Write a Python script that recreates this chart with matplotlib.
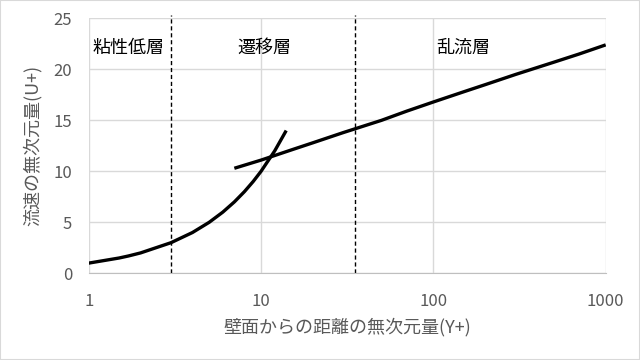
import matplotlib
matplotlib.use("Agg")
import matplotlib.pyplot as plt

plt.rcParams['font.family'] = ['Noto Sans CJK JP', 'DejaVu Sans']

# viscous sublayer (u+ = y+)
vis_x = [1, 1.5, 1.7, 2, 3, 4, 5, 6, 7, 8, 9, 10, 12, 14]
vis_y = [1, 1.5, 1.7, 2, 3, 4, 5, 6, 7, 8, 9, 10, 12, 14]

# log-law region
log_x = [7, 10, 15, 20, 30, 50, 70, 100, 150, 200, 300, 500, 700, 1000]
log_y = [10.3, 11.1, 12.1, 12.8, 13.8, 15.0, 15.9, 16.8, 17.8, 18.5, 19.5, 20.7, 21.5, 22.4]

# layer boundaries and labels
bounds = [3, 35]
layer_names = ["粘性低層", "遷移層", "乱流層"]
layer_x = [1.71, 10.4, 150]
layer_y = 22.1

x_ticks = [1, 10, 100, 1000]
y_ticks = [0, 5, 10, 15, 20, 25]

fig = plt.figure(figsize=(6.4, 3.6), dpi=100)
ax = fig.add_axes([0.1386, 0.2408, 0.9464 - 0.1386, 0.949 - 0.2408])

ax.set_xscale('log')
ax.set_xlim(1, 1000)
ax.set_ylim(0, 25)
ax.set_xticks(x_ticks)
ax.set_xticklabels([str(v) for v in x_ticks])
ax.set_yticks(y_ticks)
ax.minorticks_off()
ax.grid(True, color='#d9d9d9', linewidth=1)
ax.set_axisbelow(True)
for s in ['top', 'right', 'left']:
    ax.spines[s].set_visible(False)
ax.spines['bottom'].set_color('#bfbfbf')
ax.tick_params(length=0, labelsize=12, colors='#595959')
ax.tick_params(axis='x', pad=14)
ax.tick_params(axis='y', pad=12)

ax.plot(vis_x, vis_y, color='black', linewidth=2.4, solid_capstyle='butt')
ax.plot(log_x, log_y, color='black', linewidth=2.4, solid_capstyle='butt')

for b in bounds:
    ax.plot([b, b], [0, 25.3], color='black', linewidth=1,
            linestyle=(0, (3, 2)), clip_on=False)

for name, lx in zip(layer_names, layer_x):
    ax.text(lx, layer_y, name, ha='center', va='center', fontsize=13)

ax.set_xlabel('壁面からの距離の無次元量(Y+)', fontsize=13, color='#595959', labelpad=6)
ax.set_ylabel('流速の無次元量(U+)', fontsize=13, color='#595959', labelpad=8)

fig.patches.append(plt.Rectangle((0, 0), 1, 1, transform=fig.transFigure,
                                 fill=False, edgecolor='#d9d9d9', linewidth=1.5))

fig.savefig('out.png', dpi=100)
